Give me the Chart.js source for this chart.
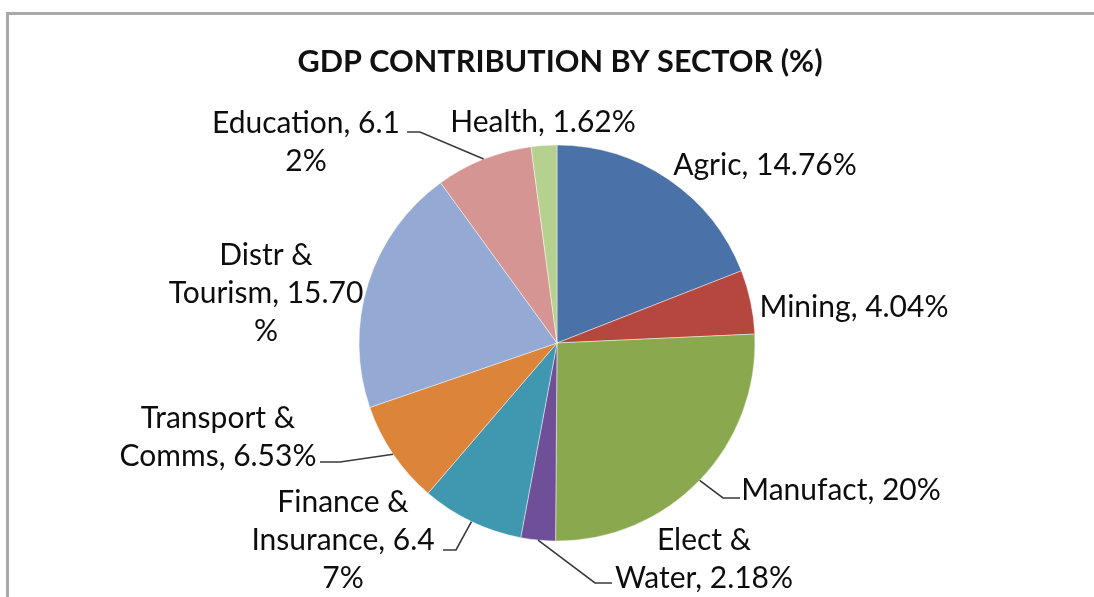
<!DOCTYPE html>
<html><head><meta charset="utf-8">
<script src="https://cdn.jsdelivr.net/npm/chart.js@4/dist/chart.umd.min.js"></script>
<style>
html,body{margin:0;padding:0;background:#fff;}
#wrap{position:relative;width:1094px;height:597px;overflow:hidden;background:#fff;}
#frame{position:absolute;left:6px;top:12px;width:1200px;height:700px;border-left:3px solid #a9a9a9;border-top:3px solid #a9a9a9;}
canvas{position:absolute;left:0;top:0;}
</style></head><body>
<div id="wrap"><div id="frame"></div><canvas id="c" width="1094" height="597"></canvas></div>
<script>
// ---- data ----
const titleText = "GDP CONTRIBUTION BY SECTOR (%)";
const categories = ["Agric", "Mining", "Manufact", "Elect & Water", "Finance & Insurance", "Transport & Comms", "Distr & Tourism", "Education", "Health"];
const shares = [14.76, 4.04, 20, 2.18, 6.47, 6.53, 15.70, 6.12, 1.62];
// data label text, wrapped the way the reference wraps it
const labelLines = [
  ["Agric, 14.76%"],
  ["Mining, 4.04%"],
  ["Manufact, 20%"],
  ["Elect &", "Water, 2.18%"],
  ["Finance &", "Insurance, 6.4", "7%"],
  ["Transport &", "Comms, 6.53%"],
  ["Distr &", "Tourism, 15.70", "%"],
  ["Education, 6.1", "2%"],
  ["Health, 1.62%"]
];

// ---- styles / layout ----
const sliceColors = ["#4a72a8", "#b5473f", "#8aa84e", "#6f4f98", "#3f97b0", "#dd843b", "#94a9d3", "#d49593", "#b6d08f"];
const labelLayout = [
  {x: 765, y: 165},
  {x: 854, y: 307},
  {x: 841, y: 490, elbow: [723, 498], end: [740, 498]},
  {x: 704, y: 540, elbow: [595, 583], end: [612, 583]},
  {x: 343, y: 502, elbow: [456, 550], end: [443, 550]},
  {x: 218, y: 418, elbow: [340, 462], end: [320, 462]},
  {x: 266, y: 255},
  {x: 306, y: 123, elbow: [420, 132], end: [407, 132]},
  {x: 543, y: 122}
];
const labelFont = "30px Lato";
const lineGap = 38;
const titleFont = "bold 30.6px Lato";
const titlePos = {x: 560, y: 62};

const labelPlugin = {
  id: 'sliceLabels',
  afterDatasetsDraw(chart) {
    const ctx = chart.ctx;
    const arcs = chart.getDatasetMeta(0).data;
    ctx.save();
    ctx.font = titleFont;
    ctx.fillStyle = "#111";
    ctx.textAlign = "center";
    ctx.textBaseline = "middle";
    ctx.fillText(titleText, titlePos.x, titlePos.y);
    arcs.forEach((arc, i) => {
      const L = labelLayout[i];
      const p = arc.getProps(['x', 'y', 'startAngle', 'endAngle', 'outerRadius'], true);
      if (L.elbow) {
        const mid = (p.startAngle + p.endAngle) / 2;
        const sx = p.x + Math.cos(mid) * p.outerRadius;
        const sy = p.y + Math.sin(mid) * p.outerRadius;
        ctx.beginPath();
        ctx.moveTo(sx, sy);
        ctx.lineTo(L.elbow[0], L.elbow[1]);
        ctx.lineTo(L.end[0], L.end[1]);
        ctx.strokeStyle = "#3a3a3a";
        ctx.lineWidth = 1.6;
        ctx.stroke();
      }
      ctx.font = labelFont;
      ctx.fillStyle = "#0d0d0d";
      ctx.textAlign = "center";
      ctx.textBaseline = "middle";
      labelLines[i].forEach((t, k) => ctx.fillText(t, L.x, L.y + k * lineGap));
    });
    ctx.restore();
  }
};

new Chart(document.getElementById('c'), {
  type: 'pie',
  data: {
    labels: categories,
    datasets: [{
      data: shares,
      backgroundColor: sliceColors,
      borderColor: "rgba(255,255,255,0.45)",
      borderWidth: 1,
      hoverOffset: 0
    }]
  },
  options: {
    responsive: false,
    animation: false,
    radius: 198,
    layout: {autoPadding: false, padding: {left: 357, right: 337, top: 143, bottom: 54}},
    plugins: {
      legend: {display: false},
      tooltip: {enabled: false},
      title: {display: false}
    }
  },
  plugins: [labelPlugin]
});
</script>
</body></html>
